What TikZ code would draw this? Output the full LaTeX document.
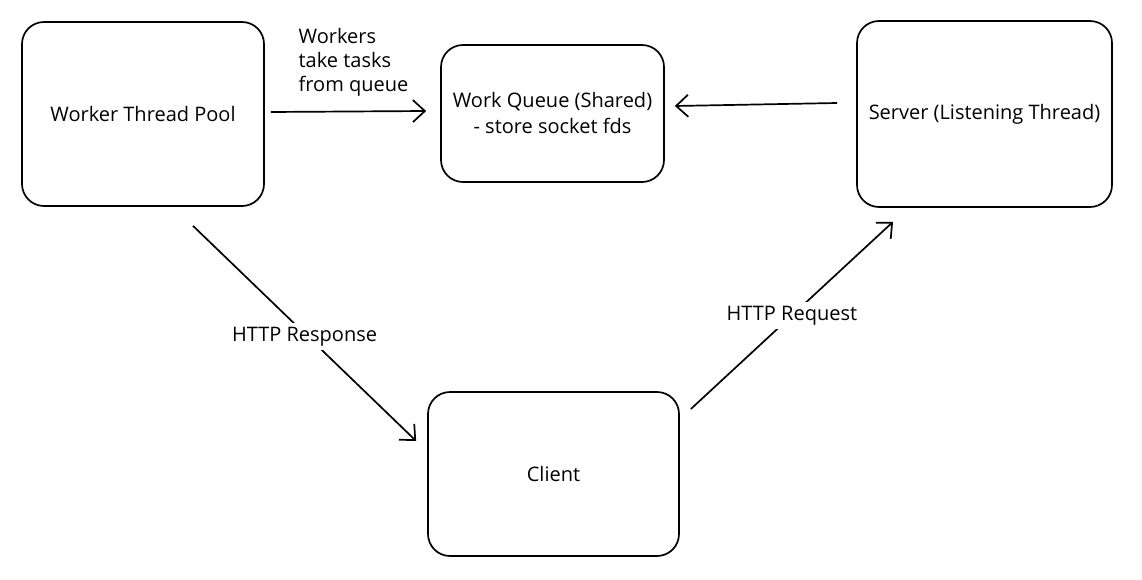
\documentclass[tikz,border=0pt]{standalone}
\usepackage{fontspec}
\setmainfont{Open Sans}
\usetikzlibrary{arrows.meta}
\begin{document}
\begin{tikzpicture}[x=1pt,y=-1pt,
  box/.style={draw=black, line width=1.7pt, rounded corners=22pt, align=center, inner sep=0pt},
  arr/.style={line width=1.7pt, -{Straight Barb[length=12pt,width=22pt]}},
  lbl/.style={font=\fontsize{20}{24}\selectfont},
  txt/.style={font=\fontsize{20}{26}\selectfont}]
\useasboundingbox[fill=white] (0,0) rectangle (1142,580);
\node[box, txt, minimum width=242pt, minimum height=184pt] (wtp) at (143,114) {Worker Thread Pool};
\node[box, txt, minimum width=223pt, minimum height=137pt] (wq) at (552.5,113.5) {Work Queue (Shared)\\- store socket fds};
\node[box, txt, minimum width=255pt, minimum height=186pt] (srv) at (984.5,114) {Server (Listening Thread)};
\node[box, txt, minimum width=251pt, minimum height=164pt] (cli) at (553.5,474) {Client};
% arrows
\draw[arr] ([shift={(6,-2)}]wtp.east) -- ([shift={(-14,-2.5)}]wq.west)
  node[midway, lbl, align=left, anchor=south, inner sep=0pt, yshift=14pt, xshift=5pt] (lw) {Workers\\take tasks\\from queue};
\draw[arr] ([shift={(-19,-11)}]srv.west) -- ([shift={(10,-7.5)}]wq.east);
\draw[arr] ([shift={(50,19)}]wtp.south) -- ([shift={(-11,-33)}]cli.west)
  node[midway, lbl, fill=white, inner sep=4pt, yshift=-3pt] (lresp) {HTTP Response};
\draw[arr] ([shift={(11,-65)}]cli.east) -- ([shift={(-91.5,14)}]srv.south)
  node[midway, lbl, fill=white, inner sep=4pt] (lreq) {HTTP Request};
\end{tikzpicture}
\end{document}
